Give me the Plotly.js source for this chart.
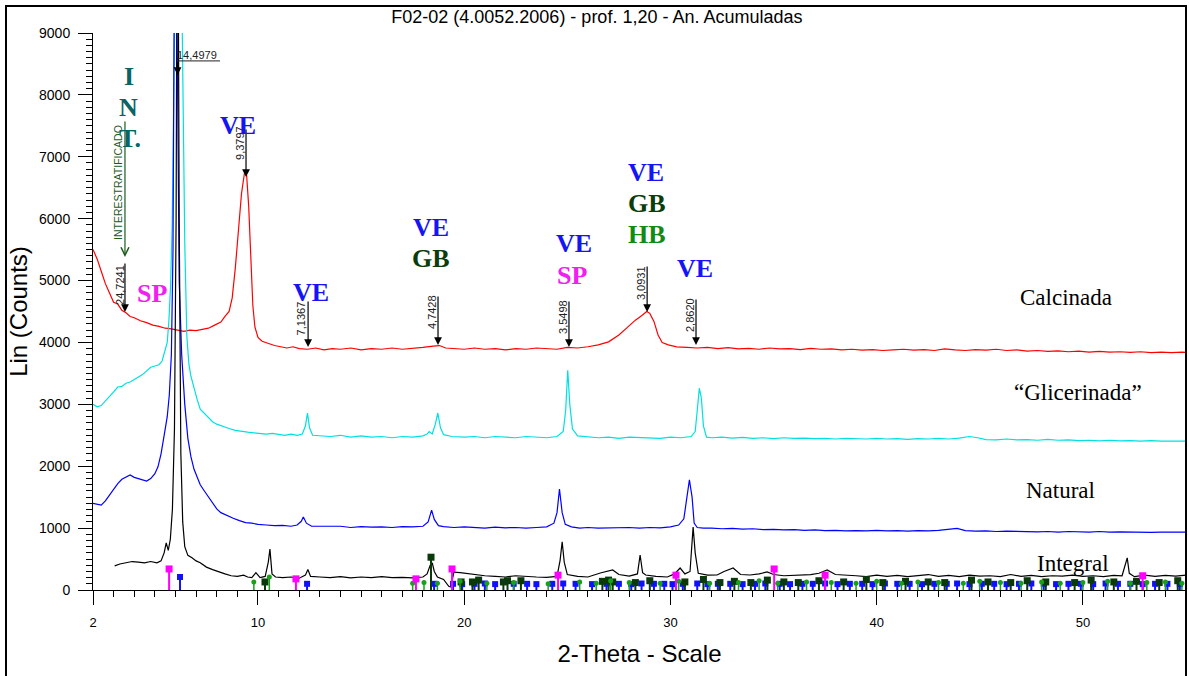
<!DOCTYPE html>
<html>
<head>
<meta charset="utf-8">
<script src="https://cdn.plot.ly/plotly-3.0.1.min.js"></script>
<style>
  html, body { margin: 0; padding: 0; background: #fff; }
  #chart { position: absolute; left: 0; top: 0; width: 1189px; height: 676px; }
  #frame { position: absolute; left: 5px; top: 5px; width: 1182px; height: 720px; box-sizing: border-box;
           border: 2px solid #000; pointer-events: none; }
</style>
</head>
<body>
<div id="chart"></div>
<div id="frame"></div>
<script>
// ---------- DATA ----------
// Calcinada (red)
const calc_x = [2.0,2.2,2.4,2.6,2.8,3.0,3.2,3.4,3.6,3.8,4.0,4.3,4.6,4.9,5.2,5.5,5.8,6.1,6.4,6.7,7.0,7.3,7.6,7.9,8.2,8.4,8.6,8.75,8.9,9.05,9.2,9.35,9.45,9.55,9.65,9.75,9.85,10.0,10.2,10.5,10.8,11.1,11.4,11.7,12.0,12.4,12.8,13.2,13.6,14.0,14.5,15.0,15.5,16.0,16.5,17.0,17.5,18.0,18.5,18.8,19.1,19.6,20.0,20.5,21.0,21.5,22.0,22.5,23.0,23.5,24.0,24.5,25.0,25.5,26.0,26.5,27.0,27.5,27.9,28.3,28.6,28.85,29.0,29.2,29.4,29.6,29.9,30.3,30.8,31.3,31.8,32.3,32.8,33.3,33.8,34.3,34.8,35.3,35.8,36.3,36.8,37.3,37.8,38.3,38.8,39.3,39.8,40.3,40.8,41.3,41.8,42.3,42.8,43.3,43.8,44.3,44.8,45.3,45.8,46.3,46.8,47.3,47.8,48.3,48.8,49.3,49.8,50.3,50.8,51.3,51.8,52.3,52.8,53.3,53.8,54.3,54.8,55.0];
const calc_y = [5500,5350,5150,4950,4800,4650,4620,4520,4480,4420,4400,4350,4320,4280,4260,4230,4220,4200,4180,4200,4190,4210,4230,4280,4330,4420,4500,4720,5200,5800,6400,6750,6700,6200,5300,4600,4250,4080,4020,3980,3950,3930,3910,3930,3900,3890,3910,3880,3900,3890,3910,3880,3900,3890,3910,3890,3900,3920,3940,3950,3910,3900,3890,3910,3890,3900,3880,3900,3890,3910,3900,3890,3920,3910,3930,3960,4010,4120,4240,4360,4430,4500,4470,4340,4120,4000,3960,3930,3920,3910,3920,3900,3915,3895,3905,3890,3910,3895,3900,3885,3905,3890,3895,3880,3890,3875,3885,3870,3880,3890,3875,3885,3870,3895,3880,3870,3885,3875,3890,3870,3880,3860,3870,3855,3865,3850,3860,3845,3855,3845,3850,3840,3850,3835,3845,3835,3845,3840];

// "Glicerinada" (cyan)
const glic_x = [2.0,2.2,2.4,2.6,2.8,3.0,3.2,3.4,3.6,3.8,4.0,4.2,4.4,4.6,4.8,5.0,5.2,5.35,5.5,5.6,5.68,5.76,5.84,5.92,6.02,6.14,6.26,6.36,6.45,6.55,6.65,6.75,6.9,7.05,7.2,7.4,7.6,7.8,8.0,8.3,8.6,8.9,9.2,9.5,9.8,10.1,10.4,10.7,11.0,11.3,11.6,11.9,12.15,12.3,12.4,12.5,12.65,13.0,13.5,14.0,14.5,15.0,15.5,16.0,16.5,17.0,17.5,18.0,18.2,18.3,18.45,18.6,18.72,18.85,19.0,19.4,20.0,20.5,21.0,21.5,22.0,22.5,23.0,23.5,24.0,24.5,24.8,24.92,25.02,25.12,25.25,25.5,26.0,26.5,27.0,27.5,28.0,28.5,29.0,29.5,30.0,30.5,31.0,31.2,31.3,31.4,31.5,31.6,31.75,32.0,32.5,33.0,33.5,34.0,34.5,35.0,35.5,36.0,36.5,37.0,37.5,38.0,38.5,39.0,39.5,40.0,40.5,41.0,41.5,42.0,42.5,43.0,43.5,44.0,44.5,44.9,45.3,45.8,46.3,46.8,47.3,47.8,48.3,48.8,49.3,49.8,50.3,50.8,51.3,51.8,52.3,52.8,53.3,53.8,54.3,55.0];
const glic_y = [3000,2960,2980,3050,3120,3200,3280,3290,3340,3360,3400,3440,3480,3540,3600,3620,3640,3700,3880,4000,4350,4900,5900,7800,10500,14000,11000,8200,5600,4100,3650,3450,3250,3080,2920,2850,2780,2720,2680,2640,2610,2580,2560,2550,2540,2530,2520,2530,2510,2500,2520,2500,2520,2650,2860,2620,2500,2490,2480,2500,2470,2490,2470,2480,2460,2480,2470,2490,2520,2560,2520,2680,2860,2620,2510,2480,2470,2480,2460,2480,2470,2460,2480,2470,2460,2480,2560,2900,3550,3000,2600,2490,2470,2460,2470,2450,2470,2460,2460,2450,2470,2460,2480,2560,2900,3260,3100,2650,2470,2460,2470,2455,2465,2450,2460,2445,2460,2450,2455,2445,2450,2440,2450,2445,2440,2450,2440,2445,2435,2445,2440,2450,2440,2455,2480,2460,2430,2425,2440,2425,2430,2420,2435,2420,2425,2415,2420,2410,2420,2410,2415,2405,2415,2405,2410,2405];

// Natural (blue)
const nat_x = [2.0,2.2,2.4,2.6,2.8,3.0,3.2,3.4,3.6,3.8,4.0,4.2,4.4,4.6,4.8,5.0,5.15,5.3,5.45,5.6,5.7,5.8,5.88,5.95,6.0,6.08,6.18,6.3,6.45,6.6,6.75,6.9,7.05,7.2,7.4,7.6,7.8,8.0,8.2,8.5,8.8,9.1,9.4,9.7,10.0,10.4,10.8,11.2,11.6,11.9,12.1,12.2,12.35,12.6,13.0,13.5,14.0,14.5,15.0,15.5,16.0,16.5,17.0,17.5,18.0,18.25,18.42,18.55,18.75,19.0,19.5,20.0,20.5,21.0,21.5,22.0,22.5,23.0,23.5,24.0,24.35,24.5,24.62,24.75,24.9,25.2,25.6,26.0,26.5,27.0,27.5,28.0,28.5,29.0,29.5,30.0,30.4,30.65,30.8,30.92,31.05,31.15,31.3,31.6,32.0,32.5,33.0,33.5,34.0,34.5,35.0,35.5,36.0,36.5,37.0,37.5,38.0,38.5,39.0,39.5,40.0,40.5,41.0,41.5,42.0,42.5,43.0,43.5,43.9,44.3,44.8,45.3,45.8,46.3,46.8,47.3,47.8,48.3,48.8,49.3,49.8,50.3,50.8,51.3,51.8,52.3,52.8,53.3,53.8,54.3,55.0];
const nat_y = [1400,1390,1370,1440,1540,1620,1720,1790,1830,1860,1820,1800,1770,1760,1800,1880,1990,2200,2500,2800,3150,3800,5500,9500,14000,9000,5000,3800,3000,2450,2150,1950,1830,1700,1600,1500,1400,1310,1250,1200,1160,1120,1090,1080,1060,1050,1040,1045,1030,1050,1110,1180,1080,1030,1030,1020,1030,1010,1025,1015,1020,1010,1025,1020,1030,1100,1290,1140,1040,1025,1010,1020,1010,1000,1015,1005,1010,1000,1010,1020,1080,1250,1630,1250,1060,1020,1000,1010,1000,1005,1000,1010,1000,1010,1005,1020,1050,1150,1500,1780,1500,1080,1010,1000,1000,990,995,985,990,975,980,970,975,965,970,960,965,955,960,955,965,955,960,950,960,955,965,980,995,960,950,955,945,950,945,950,940,945,935,945,940,935,945,935,940,935,940,930,935,930,935];

// Integral (black)
const int_x = [3.05,3.3,3.6,3.9,4.2,4.5,4.8,5.1,5.3,5.45,5.55,5.65,5.75,5.85,5.95,6.03,6.1,6.18,6.26,6.35,6.45,6.6,6.8,7.0,7.2,7.5,7.8,8.1,8.4,8.7,9.0,9.3,9.5,9.7,9.9,10.1,10.35,10.5,10.58,10.68,10.85,11.2,11.6,12.0,12.3,12.42,12.55,13.0,13.5,14.0,14.5,15.0,15.5,16.0,16.5,17.0,17.5,18.0,18.2,18.35,18.45,18.55,18.7,19.0,19.25,19.35,19.5,19.8,20.2,20.6,21.0,21.5,22.0,22.5,23.0,23.5,24.0,24.5,24.65,24.75,24.85,25.0,25.5,26.0,26.6,27.2,27.5,28.0,28.4,28.53,28.65,28.8,29.3,29.85,30.2,30.47,30.7,30.95,31.1,31.2,31.35,31.8,32.26,32.6,33.04,33.4,33.86,34.3,34.69,35.0,35.5,36.29,36.8,37.2,37.6,38.0,38.57,39.0,39.5,40.0,40.5,41.0,41.5,42.0,42.5,43.0,43.5,44.0,44.5,45.0,45.5,46.0,46.5,47.0,47.5,48.0,48.5,49.0,49.5,50.0,50.5,51.0,51.5,51.9,52.05,52.15,52.25,52.5,53.0,53.5,54.0,54.5,55.0];
const int_y = [390,420,440,460,450,440,460,440,470,600,760,640,820,1300,2600,6000,13000,6000,2200,1100,700,560,520,470,440,370,330,290,260,230,220,240,210,200,280,200,220,450,660,260,210,200,210,190,240,330,220,210,200,215,195,210,200,215,200,205,195,210,260,400,440,300,210,170,60,50,290,280,260,240,230,220,210,230,215,210,205,220,480,780,450,250,220,210,275,323,250,225,260,566,280,242,220,210,260,355,260,300,1018,600,270,240,242,300,355,250,242,260,291,250,230,242,250,270,323,250,242,230,215,240,220,235,215,230,250,220,235,215,240,225,230,215,250,220,235,215,230,225,240,220,230,215,235,230,400,520,270,215,240,220,235,225,240];

// Reference-pattern sticks (2-theta, height)
const ve_x = [6.22,12.38,18.54,19.46,19.9,20.5,21.0,21.5,22.4,23.05,23.5,24.27,24.8,25.4,26.2,26.9,27.5,28.1,28.6,29.2,29.7,30.1,30.6,31.3,31.8,32.3,32.9,33.5,34.1,34.6,35.3,35.8,36.4,36.9,37.5,38.1,38.7,39.3,39.8,40.4,41.0,41.6,42.2,42.8,43.4,43.9,44.5,45.1,45.7,46.3,46.9,47.5,48.1,48.7,49.3,49.9,50.5,51.1,51.7,52.3,52.9,53.5,54.1,54.7];
const ve_h = [210,100,100,100,95,100,105,95,100,100,95,100,105,100,95,100,100,95,105,100,100,95,100,105,95,100,100,95,100,105,100,95,100,100,105,95,100,100,95,105,100,100,95,100,100,105,95,100,100,95,100,105,100,95,100,100,95,105,100,100,95,100,100,95];
const gb_x = [10.34,18.39,19.85,20.4,20.7,21.9,22.1,22.75,26.7,27.0,27.2,28.3,29.0,30.7,31.6,32.4,33.1,33.9,34.7,35.5,36.2,37.2,38.4,39.5,40.3,41.4,42.5,43.3,44.6,45.4,46.5,47.3,48.2,49.6,50.4,51.5,52.6,53.7,54.6];
const gb_h = [130,530,130,130,160,130,150,150,140,160,130,120,150,130,170,120,140,120,160,130,120,150,130,170,120,140,130,120,160,130,120,150,130,120,160,130,140,120,150];
const hb_x = [9.8,10.55,17.5,18.05,18.7,19.8,21.1,22.4,24.07,25.6,26.4,27.1,28.0,29.5,30.4,31.9,33.3,34.3,35.2,36.6,37.8,39.0,40.0,41.2,42.0,43.0,44.2,45.0,46.0,47.0,48.0,48.9,50.0,51.2,52.3,53.1,54.0,54.8];
const hb_h = [130,210,110,120,110,140,110,120,100,130,110,150,120,110,140,110,120,150,110,130,120,110,140,110,130,120,110,140,120,110,130,110,120,140,110,120,130,110];
const sp_x = [5.69,11.84,17.66,19.41,24.55,30.27,35.03,37.5,52.9];
const sp_h = [340,180,180,340,240,240,340,240,230];

// ---------- CHART ----------
const lineTrace = (x, y, color) => ({
  type: 'scatter', mode: 'lines', x: x, y: y,
  line: { color: color, width: 1.2 }, hoverinfo: 'skip', showlegend: false
});
const stickTrace = (x, h, color, symbol, size, thick) => ({
  type: 'scatter', mode: 'markers', x: x, y: h,
  marker: { color: color, symbol: symbol, size: size, line: { width: 0 } },
  error_y: { type: 'data', symmetric: false, array: h.map(() => 0), arrayminus: h,
             width: 0, thickness: thick, color: color },
  hoverinfo: 'skip', showlegend: false
});

const traces = [
  lineTrace(calc_x, calc_y, '#ff0000'),
  lineTrace(glic_x, glic_y, '#00e0e0'),
  lineTrace(nat_x, nat_y, '#0000ff'),
  lineTrace(int_x, int_y, '#000000'),
  stickTrace(ve_x, ve_h, '#1010ff', 'square', 6, 2),
  stickTrace(gb_x, gb_h, '#0a3a0a', 'square', 7, 2),
  stickTrace(hb_x, hb_h, '#18a018', 'circle', 5, 1.5),
  stickTrace(sp_x, sp_h, '#ff00ff', 'square', 7, 2)
];

const ARIAL = 'Arial, "Liberation Sans", sans-serif';
const TIMES = '"Times New Roman", "Liberation Serif", serif';

const anns = [];
function arrow(x, y, len, color, head) {
  anns.push({ x: x, y: y, xref: 'x', yref: 'y', text: '', showarrow: true,
    ax: 0, ay: -len, arrowhead: head || 2, arrowsize: 1.3, arrowwidth: 1.2,
    arrowcolor: color || '#000' });
}
function dval(x, y, t, angle) {
  anns.push({ x: x, y: y, xref: 'x', yref: 'y', text: t, showarrow: false,
    textangle: angle === undefined ? -90 : angle,
    font: { family: ARIAL, size: 11, color: '#222' } });
}
function tag(x, y, t, color, bold, size) {
  anns.push({ x: x, y: y, xref: 'x', yref: 'y', text: bold ? '<b>' + t + '</b>' : t,
    showarrow: false, font: { family: TIMES, size: size, color: color } });
}

// d-spacing markers
arrow(3.55, 4492, 50); dval(3.31, 4929, '24,7241');
arrow(6.10, 8322, 14); dval(7.05, 8650, '14,4979', 0);
arrow(9.42, 6674, 49); dval(9.13, 7224, '9,3797');
arrow(12.43, 3927, 47); dval(12.06, 4396, '7,1367');
arrow(18.73, 3959, 50); dval(18.44, 4492, '4,7428');
arrow(25.08, 3927, 47); dval(24.79, 4412, '3,5498');
arrow(28.87, 4492, 47); dval(28.58, 4961, '3,0931');
arrow(31.24, 3959, 47); dval(30.95, 4444, '2,8620');
// interstratified marker
arrow(3.55, 5381, 137, '#1e5a1e', 5);
anns.push({ x: 3.21, y: 6593, xref: 'x', yref: 'y', text: 'INTERESTRATIFICADO', showarrow: false,
  textangle: -90, font: { family: ARIAL, size: 10.5, color: '#1e5a1e' } });

// mineral tags
const VE = '#1414f5', SP = '#f020f0', GB = '#0a3d0a', HB = '#138a13', INT = '#0b6363';
tag(7.87, 9066, 'VE', VE, true, 26);
tag(3.75, 8290, 'I', INT, true, 26);
tag(3.70, 7789, 'N', INT, true, 26);
tag(3.79, 7288, 'T.', INT, true, 26);
tag(9.03, 7498, 'VE', VE, true, 26);
tag(4.86, 4783, 'SP', SP, true, 26);
tag(12.57, 4800, 'VE', VE, true, 26);
tag(18.39, 5850, 'VE', VE, true, 26);
tag(18.39, 5349, 'GB', GB, true, 26);
tag(25.33, 5591, 'VE', VE, true, 26);
tag(25.23, 5074, 'SP', SP, true, 26);
tag(28.82, 6739, 'VE', VE, true, 26);
tag(28.87, 6238, 'GB', GB, true, 26);
tag(28.87, 5737, 'HB', HB, true, 26);
tag(31.19, 5187, 'VE', VE, true, 26);

// curve names
tag(49.19, 4719, 'Calcinada', '#000', false, 23);
tag(49.77, 3184, '\u201CGlicerinada\u201D', '#000', false, 23);
tag(48.90, 1600, 'Natural', '#000', false, 23);
tag(49.53, 436, 'Integral', '#000', false, 23);

const layout = {
  width: 1189, height: 676,
  margin: { l: 93, r: 3, t: 33, b: 86, pad: 0 },
  paper_bgcolor: '#fff', plot_bgcolor: '#fff',
  showlegend: false,
  title: { text: 'F02-02 (4.0052.2006) - prof. 1,20 - An. Acumuladas',
           font: { family: ARIAL, size: 18, color: '#000' },
           xref: 'container', x: 0.502, xanchor: 'center',
           yref: 'container', y: 0.975, yanchor: 'middle' },
  xaxis: {
    range: [2, 55], autorange: false,
    tickmode: 'array', tickvals: [2, 10, 20, 30, 40, 50],
    ticks: 'outside', ticklen: 14, tickwidth: 1, tickcolor: '#000',
    ticklabelstandoff: 6,
    minor: { dtick: 1, tick0: 0, ticks: 'outside', ticklen: 6, tickwidth: 1, tickcolor: '#000' },
    showline: true, linecolor: '#000', linewidth: 1,
    showgrid: false, zeroline: false,
    tickfont: { family: ARIAL, size: 13, color: '#000' },
    title: { text: '2-Theta - Scale', font: { family: ARIAL, size: 24, color: '#000' }, standoff: 16 }
  },
  xaxis2: {
    range: [2, 55], autorange: false, overlaying: 'x', anchor: 'y', side: 'bottom',
    tickmode: 'array', tickvals: [5, 15, 25, 35, 45, 55],
    ticks: 'outside', ticklen: 10, tickwidth: 1, tickcolor: '#000',
    showticklabels: false, showline: false, showgrid: false, zeroline: false
  },
  yaxis: {
    range: [0, 9000], autorange: false,
    dtick: 1000, tick0: 0,
    ticks: 'outside', ticklen: 14, tickwidth: 1, tickcolor: '#000',
    ticklabelstandoff: 5,
    minor: { dtick: 100, ticks: 'outside', ticklen: 6, tickwidth: 1, tickcolor: '#000' },
    showline: true, linecolor: '#000', linewidth: 1,
    showgrid: false, zeroline: false,
    tickfont: { family: ARIAL, size: 14, color: '#000' },
    title: { text: 'Lin (Counts)', font: { family: ARIAL, size: 24, color: '#000' }, standoff: 4 }
  },
  shapes: [
    { type: 'line', xref: 'x', yref: 'y', x0: 6.07, x1: 8.16, y0: 8549, y1: 8549,
      line: { color: '#222', width: 1 } }
  ],
  annotations: anns
};

Plotly.newPlot('chart', traces, layout, { staticPlot: true, displayModeBar: false });
</script>
</body>
</html>
